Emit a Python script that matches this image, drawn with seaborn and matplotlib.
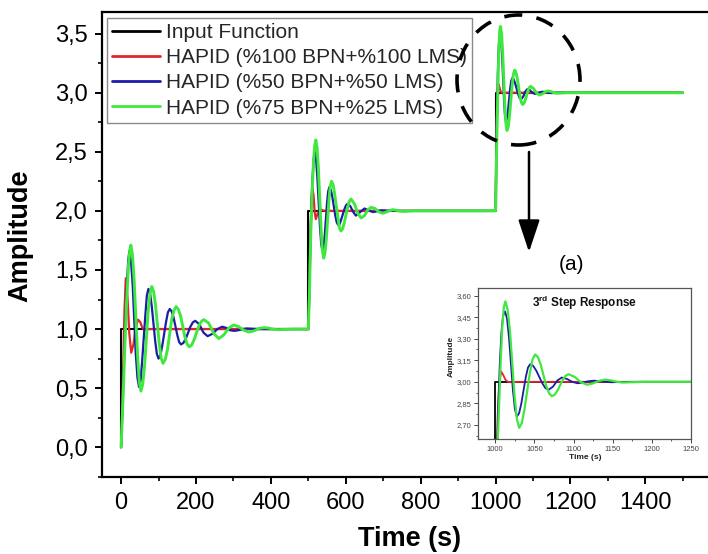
import matplotlib
matplotlib.use("Agg")
import matplotlib.pyplot as plt
import pandas as pd
import seaborn as sns
from matplotlib.ticker import MultipleLocator, FuncFormatter
from matplotlib.patches import Ellipse, FancyArrowPatch

# ---------------- data ----------------
series_names = ["Input Function", "HAPID (%100 BPN+%100 LMS)",
                "HAPID (%50 BPN+%50 LMS)", "HAPID (%75 BPN+%25 LMS)"]

inp_t = [0, 0, 500, 500, 1000, 1000, 1500]
inp_a = [0, 1, 1, 2, 2, 3, 3]

# red: HAPID (%100 BPN+%100 LMS)
red_t1 = [0, 3, 6, 9, 12.5, 17, 22, 27, 33, 39, 45, 51, 57, 63, 75, 500]
red_a1 = [0, 0.3, 0.75, 1.15, 1.43, 1.27, 0.96, 0.80, 0.87, 1.01, 1.08, 1.06, 1.01, 0.99, 1.0, 1.0]
red_t2 = [503, 506, 508.5, 511, 514, 517, 520, 524, 530, 537, 545, 1000]
red_a2 = [1.4, 1.85, 2.1, 2.19, 2.13, 1.99, 1.93, 1.97, 2.02, 2.005, 2.0, 2.0]
red_t3 = [1001.5, 1003, 1005, 1007.5, 1010, 1013, 1016, 1020, 1030, 1500]
red_a3 = [2.4, 2.75, 2.98, 3.072, 3.05, 3.015, 3.0, 2.997, 3.0, 3.0]

# blue: HAPID (%50 BPN+%50 LMS)
blue_t1 = [0, 5, 10, 15, 19, 22, 26.3, 31, 39, 43.7, 48, 52.2, 56, 65, 68.8, 73, 77.5, 82,
           91, 95.5, 100, 105, 110, 120, 125, 130, 135, 140, 150, 155, 160, 166.3, 173,
           185, 191.7, 198, 209, 220, 231, 244, 257, 270, 281, 291, 302, 313, 324, 335,
           370, 500]
blue_a1 = [0, 0.45, 0.95, 1.35, 1.58, 1.66, 1.583, 1.37, 0.80, 0.587, 0.51, 0.566, 0.72,
           1.13, 1.284, 1.34, 1.30, 1.19, 0.90, 0.79, 0.75, 0.778, 0.86, 1.06, 1.142, 1.17,
           1.15, 1.10, 0.95, 0.89, 0.87, 0.883, 0.92, 1.02, 1.057, 1.07, 1.04, 0.97, 0.94,
           0.96, 1.0, 1.02, 1.01, 0.99, 0.985, 0.99, 1.0, 1.005, 1.0, 1.0]
blue_t2 = [503, 506, 510, 514, 517, 520.5, 524, 531, 534.5, 538, 541, 544, 550, 553, 556,
           560, 564, 572, 576, 580, 584.2, 588, 597, 600.8, 605, 612, 620, 627, 635, 642,
           650, 657, 665, 672, 680, 687, 695, 720, 1000]
blue_a2 = [1.35, 1.8, 2.2, 2.43, 2.50, 2.444, 2.29, 1.87, 1.716, 1.66, 1.696, 1.80, 2.07,
           2.164, 2.20, 2.179, 2.12, 1.96, 1.901, 1.88, 1.892, 1.93, 2.02, 2.048, 2.06,
           2.04, 1.99, 1.96, 1.98, 2.0, 2.02, 2.01, 2.0, 1.99, 1.994, 2.001, 2.005, 2.0, 2.0]
blue_t3 = [1001, 1002.5, 1004, 1006, 1008, 1010, 1012.5, 1015, 1017.6, 1022.6, 1025.2,
           1027.7, 1030.5, 1033.3, 1039, 1041.8, 1044.6, 1048.5, 1052.4, 1060.2, 1064.1,
           1068, 1073.7, 1079.3, 1085, 1091.7, 1098.3, 1105, 1112, 1119, 1126, 1133, 1141,
           1148, 1175, 1500]
blue_a3 = [2.2, 2.55, 2.85, 3.15, 3.35, 3.46, 3.49, 3.441, 3.307, 2.941, 2.807, 2.758,
           2.782, 2.849, 3.032, 3.099, 3.123, 3.111, 3.078, 2.989, 2.956, 2.944, 2.966,
           3.009, 3.03, 3.02, 3.0, 2.99, 2.995, 3.004, 3.008, 3.005, 3.0, 2.997, 3.0, 3.0]

# green: HAPID (%75 BPN+%25 LMS)
green_t1 = [0, 5, 10, 15, 20, 23.5, 26, 30.5, 35, 44, 48.5, 53, 57.8, 63, 72, 77.2, 82,
            87, 92, 102, 107, 112, 117.8, 124, 135, 141.2, 147, 152.8, 159, 170, 176.2,
            182, 188.5, 195, 208, 214.5, 221, 234, 248, 261, 274, 288, 301, 314, 328, 341,
            355, 368, 382, 395, 408, 420, 460, 500]
green_a1 = [0, 0.4, 0.85, 1.25, 1.55, 1.67, 1.71, 1.627, 1.40, 0.78, 0.558, 0.475, 0.534,
            0.70, 1.14, 1.301, 1.36, 1.316, 1.20, 0.875, 0.754, 0.71, 0.742, 0.83, 1.08,
            1.158, 1.19, 1.167, 1.11, 0.94, 0.873, 0.85, 0.865, 0.91, 1.03, 1.065, 1.08,
            1.05, 0.96, 0.92, 0.95, 1.01, 1.035, 1.02, 0.99, 0.975, 0.985, 1.005, 1.012,
            1.008, 0.998, 0.995, 1.0, 1.0]
green_t2 = [503, 506, 510, 514, 517, 520, 523.5, 527, 534, 537.5, 541, 544.5, 548, 555,
            558.5, 562, 566.2, 570, 579, 582.8, 587, 591.5, 596, 605, 609.5, 614, 623, 632,
            641, 650, 659, 668, 678, 689, 699, 708, 716, 725, 734, 743, 752, 780, 1000]
green_a2 = [1.3, 1.75, 2.15, 2.42, 2.55, 2.60, 2.533, 2.35, 1.85, 1.667, 1.60, 1.644, 1.76,
            2.09, 2.206, 2.25, 2.222, 2.15, 1.94, 1.858, 1.83, 1.848, 1.90, 2.03, 2.082,
            2.10, 2.06, 1.98, 1.94, 1.96, 2.01, 2.03, 2.02, 1.99, 1.98, 1.99, 2.0, 2.01,
            2.006, 1.999, 1.995, 2.0, 2.0]
green_t3 = [1001.5, 1003, 1005, 1007, 1009, 1011, 1013, 1015.9, 1019, 1024.7, 1027.7,
            1030.6, 1034, 1037.4, 1044.2, 1047.6, 1051, 1054.6, 1058.1, 1065.2, 1068.8,
            1072.3, 1075.8, 1079.4, 1086.4, 1090, 1093.5, 1101.3, 1109.2, 1117, 1124.7,
            1132.3, 1140, 1147.7, 1155.3, 1163, 1190, 1500]
green_a3 = [2.25, 2.55, 2.85, 3.15, 3.38, 3.52, 3.56, 3.501, 3.34, 2.90, 2.739, 2.68,
            2.714, 2.81, 3.06, 3.156, 3.19, 3.171, 3.12, 2.97, 2.919, 2.90, 2.910, 2.938,
            3.015, 3.043, 3.053, 3.035, 2.998, 2.98, 2.989, 3.006, 3.015, 3.01, 3.0, 2.995,
            3.0, 3.0]

main_xticks = [0, 200, 400, 600, 800, 1000, 1200, 1400]
main_yticks = [0.0, 0.5, 1.0, 1.5, 2.0, 2.5, 3.0, 3.5]
inset_xticks = [1000, 1050, 1100, 1150, 1200, 1250]
inset_yticks = [2.70, 2.85, 3.00, 3.15, 3.30, 3.45, 3.60]

colors = ["#000000", "#e3262b", "#1c1ca6", "#3ee83e"]
main_lw = [1.5, 1.6, 1.6, 2.1]
inset_lw = [1.3, 1.3, 1.3, 1.6]

series = [(inp_t, inp_a),
          (red_t1 + red_t2 + red_t3, red_a1 + red_a2 + red_a3),
          (blue_t1 + blue_t2 + blue_t3, blue_a1 + blue_a2 + blue_a3),
          (green_t1 + green_t2 + green_t3, green_a1 + green_a2 + green_a3)]
frames = [pd.DataFrame({"t": t, "a": a}) for t, a in series]

# ---------------- style ----------------
sns.set_theme(style="ticks")
plt.rcParams['font.family'] = ['Liberation Sans', 'DejaVu Sans']
plt.rcParams['mathtext.fontset'] = 'custom'
plt.rcParams['mathtext.rm'] = 'Liberation Sans'
plt.rcParams['mathtext.bf'] = 'Liberation Sans:bold'

W, H = 708, 554
fig = plt.figure(figsize=(W / 100, H / 100), dpi=100)


def px_rect(l, t, r, b):
    return [l / W, 1 - b / H, (r - l) / W, (b - t) / H]


def comma(fmt):
    def f(v, p):
        if abs(v) < 1e-9:
            v = 0.0
        return format(v, fmt).replace('.', ',')
    return FuncFormatter(f)


# ---------------- main axes ----------------
ax = fig.add_axes(px_rect(102, 11.7, 712, 477.3))
for df, name, c, lw in zip(frames, series_names, colors, main_lw):
    sns.lineplot(data=df, x="t", y="a", color=c, lw=lw, estimator=None, sort=False,
                 ax=ax, label=name)

ax.set_xlim(-51, 1578)
ax.set_ylim(-0.254, 3.685)
ax.set_xticks(main_xticks)
ax.set_yticks(main_yticks)
ax.xaxis.set_minor_locator(MultipleLocator(100))
ax.yaxis.set_minor_locator(MultipleLocator(0.25))
ax.yaxis.set_major_formatter(comma(".1f"))
ax.xaxis.set_major_formatter(FuncFormatter(lambda v, p: f"{int(round(v))}"))
ax.tick_params(which="major", direction="out", length=4.8, width=1.4, color="black",
               labelsize=17, labelcolor="black", pad=5.5)
ax.tick_params(which="minor", direction="out", length=2.6, width=1.2, color="black")
for s in ax.spines.values():
    s.set_color("black")
    s.set_linewidth(1.6)
ax.set_xlabel("Time (s)", fontsize=19.5, fontweight="bold", color="black")
ax.set_ylabel("Amplitude", fontsize=19.5, fontweight="bold", color="black")
ax.xaxis.set_label_coords(0.505, -0.105)
ax.yaxis.set_label_coords(-0.112, 0.519)

leg = ax.legend(loc="upper left", bbox_to_anchor=(0.008, 0.987), fontsize=15,
                frameon=True, fancybox=False, edgecolor="#8a8a8a", framealpha=1,
                borderpad=0.25, labelspacing=0.3, handlelength=2.3,
                handletextpad=0.3, borderaxespad=0)
leg.get_frame().set_linewidth(1.0)
for h in leg.get_lines():
    h.set_linewidth(2.0)

# ---------------- inset ----------------
axin = fig.add_axes(px_rect(478, 287.7, 691, 439.3))
for df, c, lw in zip(frames, colors, inset_lw):
    sns.lineplot(data=df, x="t", y="a", color=c, lw=lw, estimator=None, sort=False,
                 ax=axin, legend=False)
axin.set_xlim(978, 1250)
axin.set_ylim(2.60, 3.655)
axin.set_xticks(inset_xticks)
axin.set_yticks(inset_yticks)
axin.xaxis.set_minor_locator(MultipleLocator(25))
axin.yaxis.set_minor_locator(MultipleLocator(0.075))
axin.yaxis.set_major_formatter(comma(".2f"))
axin.xaxis.set_major_formatter(FuncFormatter(lambda v, p: f"{int(round(v))}"))
axin.tick_params(which="major", direction="out", length=3, width=0.7, color="#444444",
                 labelsize=5.5, labelcolor="#444444", pad=2)
axin.tick_params(which="minor", direction="out", length=1.6, width=0.6, color="#444444")
for s in axin.spines.values():
    s.set_color("#555555")
    s.set_linewidth(0.9)
axin.set_xlabel("Time (s)", fontsize=6, fontweight="bold", color="#222222")
axin.set_ylabel("Amplitude", fontsize=6, fontweight="bold", color="#222222")
axin.xaxis.set_label_coords(0.502, -0.10)
axin.yaxis.set_label_coords(-0.11, 0.545)
axin.text(0.498, 0.897, r"$\mathbf{3^{rd}}$ Step Response", transform=axin.transAxes,
          ha="center", va="center", fontsize=8.5, fontweight="bold", color="#111111")

# ---------------- annotations ----------------
fig.add_artist(Ellipse((518.5 / W, 1 - 80 / H), 123 / W, 130 / H,
                       transform=fig.transFigure, fill=False, color="black",
                       lw=2.6, ls=(0, (5, 4))))
fig.add_artist(FancyArrowPatch((529 / W, 1 - 152 / H), (529 / W, 1 - 252 / H),
                               transform=fig.transFigure,
                               arrowstyle="-|>,head_length=0.9,head_width=0.3",
                               mutation_scale=22, lw=1.8, color="black",
                               shrinkA=0, shrinkB=0))
fig.text(571 / W, 1 - 265 / H, "(a)", ha="center", va="center", fontsize=15,
         color="black")

fig.savefig("out.png", dpi=100)
